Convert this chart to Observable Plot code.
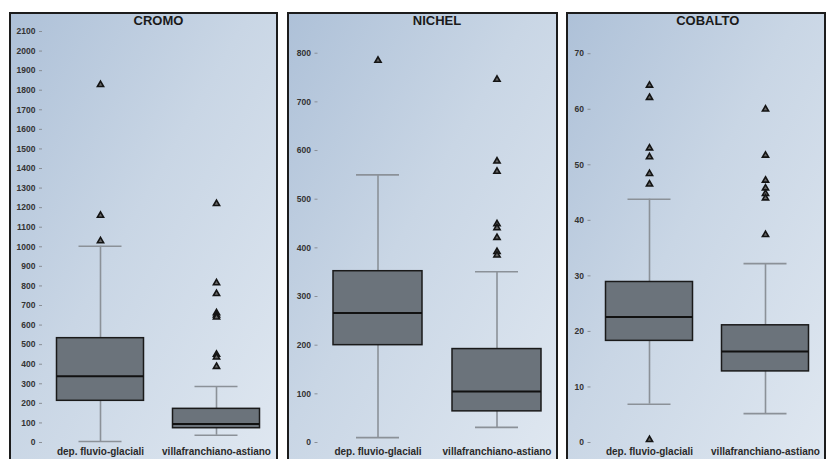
<!DOCTYPE html>
<html>
<head>
<meta charset="utf-8">
<script src="https://cdn.jsdelivr.net/npm/d3@7"></script>
<script src="https://cdn.jsdelivr.net/npm/@observablehq/plot@0.6"></script>
<style>
  html, body { margin: 0; padding: 0; background: #fff; }
  #chart { position: relative; width: 826px; height: 459px; overflow: hidden; background: #fff; font-family: "Liberation Sans", Arial, sans-serif; }
  .panel { position: absolute; top: 12px; height: 470px; box-sizing: border-box; border: 2px solid #1c1c1c;
           background: linear-gradient(to bottom right, #aec1d8 0%, #c9d6e5 45%, #e0e8f1 100%); }
  .panel svg { display: block; background: transparent; }
</style>
</head>
<body>
<div id="chart"></div>
<script>
// ---- data ----
const categories = ["dep. fluvio-glaciali", "villafranchiano-astiano"];

const cromoTicks = d3.range(0, 2101, 100);
const cromoLow = [5, 37];
const cromoQ1 = [213, 73];
const cromoMedian = [339, 95];
const cromoQ3 = [533, 172];
const cromoHigh = [1003, 286];
const cromoOutFluvio = [1030, 1160, 1828];
const cromoOutVilla = [1220, 815, 760, 662, 650, 640, 450, 436, 388];

const nichelTicks = d3.range(0, 801, 100);
const nichelLow = [10, 31];
const nichelQ1 = [200, 64];
const nichelMedian = [266, 105];
const nichelQ3 = [352, 192];
const nichelHigh = [550, 351];
const nichelOutFluvio = [785];
const nichelOutVilla = [746, 578, 557, 449, 441, 421, 392, 385];

const cobaltoTicks = d3.range(0, 71, 10);
const cobaltoLow = [6.9, 5.2];
const cobaltoQ1 = [18.3, 12.8];
const cobaltoMedian = [22.6, 16.4];
const cobaltoQ3 = [28.9, 21.1];
const cobaltoHigh = [43.8, 32.2];
const cobaltoOutFluvio = [64.3, 62.1, 53.0, 51.4, 48.4, 46.5, 0.5];
const cobaltoOutVilla = [60.0, 51.7, 47.2, 45.8, 44.8, 44.0, 37.4];

// ---- drawing ----
function panel({title, left, outerWidth, marginLeft, marginRight, yMax, ticks,
                low, q1, median, q3, high, outA, outB, boxInset, capInset}) {
  const div = document.createElement("div");
  div.className = "panel";
  div.style.left = left + "px";
  div.style.width = outerWidth + "px";
  document.getElementById("chart").appendChild(div);

  const stats = categories.map((c, i) => ({cat: c, low: low[i], q1: q1[i], median: median[i], q3: q3[i], high: high[i]}));
  const outliers = [
    ...outA.map(v => ({cat: categories[0], value: v})),
    ...outB.map(v => ({cat: categories[1], value: v}))
  ];

  const svg = Plot.plot({
    width: outerWidth - 4,
    height: 446,
    marginTop: 17,
    marginBottom: 18,
    marginLeft,
    marginRight,
    style: {background: "transparent", fontFamily: "'Liberation Sans', Arial, sans-serif", overflow: "visible"},
    x: {domain: categories, padding: 0, label: null, axis: null},
    y: {domain: [0, yMax], label: null, axis: null},
    marks: [
      Plot.axisY({ticks, tickFormat: d => String(d), tickSize: 3, tickPadding: 4, stroke: "#8a8f96", fill: "#333",
                  fontSize: 8.5, fontWeight: "bold", label: null}),
      Plot.axisX({tickSize: 0, tickPadding: 5, fill: "#2a2a2a", fontSize: 10, fontWeight: "bold", label: null}),
      Plot.ruleX(stats, {x: "cat", y1: "low", y2: "high", stroke: "#8b9198", strokeWidth: 1.6}),
      Plot.tickY(stats, {x: "cat", y: "low", stroke: "#8b9198", strokeWidth: 1.6, insetLeft: capInset, insetRight: capInset}),
      Plot.tickY(stats, {x: "cat", y: "high", stroke: "#8b9198", strokeWidth: 1.6, insetLeft: capInset, insetRight: capInset}),
      Plot.barY(stats, {x: "cat", y1: "q1", y2: "q3", fill: "#6b737b", stroke: "#1a1a1a", strokeWidth: 1.5,
                        insetLeft: boxInset, insetRight: boxInset}),
      Plot.tickY(stats, {x: "cat", y: "median", stroke: "#111", strokeWidth: 2, insetLeft: boxInset, insetRight: boxInset}),
      Plot.dot(outliers, {x: "cat", y: "value", symbol: "triangle", r: 2.3, fill: "#666", stroke: "#141414", strokeWidth: 1.6}),
      Plot.text([title], {frameAnchor: "top", text: d => d, dy: -7, lineAnchor: "bottom",
                          fontSize: 13, fontWeight: "bold", fill: "#1a1a1a"})
    ]
  });
  div.appendChild(svg);
}

panel({title: "CROMO", left: 9, outerWidth: 269, marginLeft: 31, marginRight: 2, yMax: 2100, ticks: cromoTicks,
       low: cromoLow, q1: cromoQ1, median: cromoMedian, q3: cromoQ3, high: cromoHigh,
       outA: cromoOutFluvio, outB: cromoOutVilla, boxInset: 14.5, capInset: 36.5});
panel({title: "NICHEL", left: 287, outerWidth: 271, marginLeft: 28.5, marginRight: 0.5, yMax: 844.6, ticks: nichelTicks,
       low: nichelLow, q1: nichelQ1, median: nichelMedian, q3: nichelQ3, high: nichelHigh,
       outA: nichelOutFluvio, outB: nichelOutVilla, boxInset: 15, capInset: 38});
panel({title: "COBALTO", left: 566, outerWidth: 260, marginLeft: 22.5, marginRight: 0, yMax: 74.0, ticks: cobaltoTicks,
       low: cobaltoLow, q1: cobaltoQ1, median: cobaltoMedian, q3: cobaltoQ3, high: cobaltoHigh,
       outA: cobaltoOutFluvio, outB: cobaltoOutVilla, boxInset: 14.5, capInset: 36.5});
</script>
</body>
</html>
